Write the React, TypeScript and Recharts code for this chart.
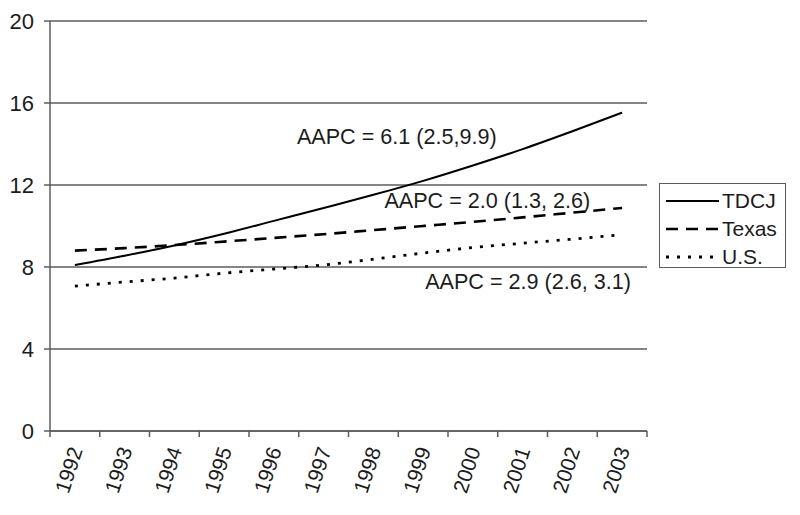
import React from 'react';
import { LineChart, Line, XAxis, YAxis, CartesianGrid, Legend, ReferenceDot } from 'recharts';

// years on the x axis
const years = ['1992', '1993', '1994', '1995', '1996', '1997', '1998', '1999', '2000', '2001', '2002', '2003'];

// rates
const tdcj = [8.1, 8.55, 9.05, 9.62, 10.25, 10.88, 11.52, 12.2, 12.95, 13.75, 14.62, 15.53];
const texas = [8.8, 8.92, 9.07, 9.24, 9.42, 9.6, 9.8, 10.0, 10.2, 10.42, 10.65, 10.88];
const us = [7.07, 7.27, 7.46, 7.7, 7.9, 8.1, 8.38, 8.68, 8.95, 9.16, 9.36, 9.58];

const yTicks = [0, 4, 8, 12, 16, 20];

const data = years.map((year, i) => ({ year, tdcj: tdcj[i], texas: texas[i], us: us[i] }));

const W = 800;
const H = 515;
const MARGIN = { top: 21, right: 153, bottom: 0, left: 0 };
const Y_W = 50;
const HALF = (W - MARGIN.left - MARGIN.right - Y_W) / years.length / 2;
const FONT = '"Liberation Sans", Arial, sans-serif';
const AXIS = '#5c5c5c';
const INK = '#1c1c1c';

const XTick = (props: any) => {
  const { x, y, payload, index } = props;
  return (
    <g>
      <line x1={x - HALF} y1={y} x2={x - HALF} y2={y + 6} stroke={AXIS} strokeWidth={1.5} />
      {index === years.length - 1 && (
        <line x1={x + HALF} y1={y} x2={x + HALF} y2={y + 6} stroke={AXIS} strokeWidth={1.5} />
      )}
      <text
        transform={`translate(${x + 8},${y + 19}) rotate(-72)`}
        textAnchor="end"
        fontSize={21}
        fontFamily={FONT}
        fill={INK}
      >
        {payload.value}
      </text>
    </g>
  );
};

const note = (text: string, dx: number) => (props: any) => {
  const vb = props.viewBox || {};
  return (
    <text x={vb.x + dx} y={vb.y} fontSize={21.6} fontFamily={FONT} fill={INK}>
      {text}
    </text>
  );
};

const legendRows = [
  { label: 'TDCJ', dash: undefined, width: 2 },
  { label: 'Texas', dash: '12 8', width: 2.6 },
  { label: 'U.S.', dash: '3 8', width: 2.8 },
];

const renderLegend = () => (
  <div style={{ width: 127, height: 85, border: `1.5px solid ${AXIS}`, boxSizing: 'border-box', background: '#fff' }}>
    <svg width={124} height={82} style={{ overflow: 'visible', display: 'block' }}>
      {legendRows.map((r, i) => (
        <g key={r.label}>
          <line x1={6} y1={17 + i * 28} x2={59} y2={17 + i * 28} stroke="#000" strokeWidth={r.width} strokeDasharray={r.dash} />
          <text x={62} y={17 + i * 28 + 7} fontSize={21} fontFamily={FONT} fill={INK}>
            {r.label}
          </text>
        </g>
      ))}
    </svg>
  </div>
);

export default function App() {
  return (
    <div style={{ position: 'absolute', left: 0, top: 0, background: '#fff' }}>
      <LineChart width={W} height={H} data={data} margin={MARGIN}>
        <CartesianGrid vertical={false} stroke={AXIS} strokeWidth={1.5} />
        <XAxis
          dataKey="year"
          height={84}
          interval={0}
          padding={{ left: HALF, right: HALF }}
          tickLine={false}
          tickSize={0}
          tickMargin={0}
          tick={<XTick />}
          axisLine={{ stroke: AXIS, strokeWidth: 1.5 }}
        />
        <YAxis
          width={Y_W}
          domain={[0, 20]}
          ticks={yTicks}
          interval={0}
          tickSize={6}
          tickMargin={10}
          tickLine={{ stroke: AXIS, strokeWidth: 1.5 }}
          axisLine={{ stroke: AXIS, strokeWidth: 1.5 }}
          tick={{ fontSize: 22, fontFamily: FONT, fill: INK }}
        />
        <YAxis
          yAxisId="r"
          orientation="right"
          width={0}
          domain={[0, 20]}
          tick={false}
          tickLine={false}
          axisLine={{ stroke: AXIS, strokeWidth: 1.5 }}
        />
        <Line type="monotone" dataKey="tdcj" name="TDCJ" stroke="#000" strokeWidth={2} dot={false} isAnimationActive={false} />
        <Line type="monotone" dataKey="texas" name="Texas" stroke="#000" strokeWidth={2.6} strokeDasharray="12 8" dot={false} isAnimationActive={false} />
        <Line type="monotone" dataKey="us" name="U.S." stroke="#000" strokeWidth={2.8} strokeDasharray="3 8" dot={false} isAnimationActive={false} />
        <ReferenceDot x="1996" y={14} r={0} fill="none" stroke="none" label={{ content: note('AAPC = 6.1 (2.5,9.9)', 23) }} />
        <ReferenceDot x="1998" y={10.86} r={0} fill="none" stroke="none" label={{ content: note('AAPC = 2.0 (1.3, 2.6)', 11) }} />
        <ReferenceDot x="1999" y={6.92} r={0} fill="none" stroke="none" label={{ content: note('AAPC = 2.9 (2.6, 3.1)', 2) }} />
        <Legend
          layout="horizontal"
          align="center"
          verticalAlign="middle"
          content={renderLegend}
          wrapperStyle={{ left: 659, top: 183, width: 127, height: 85 }}
        />
      </LineChart>
    </div>
  );
}
